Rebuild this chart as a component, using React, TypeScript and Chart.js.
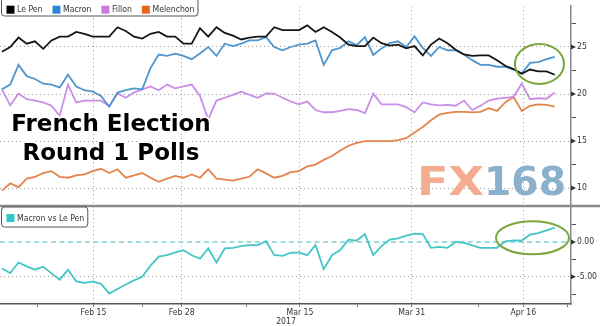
import React, { useEffect, useRef } from 'react';
import { Chart, registerables } from 'chart.js';

Chart.register(...registerables);

// ---------------- data (one value per poll observation) ----------------
const lePen = [
  24.5, 25.0, 26.0, 25.35, 25.6, 24.8, 25.7, 26.1, 26.1, 26.6,
  26.4, 26.1, 26.1, 26.1, 27.1, 26.7, 26.1, 25.9, 26.4, 26.6,
  26.1, 26.1, 25.35, 25.35, 27.0, 26.1, 27.1, 26.5, 26.2, 25.8,
  26.0, 26.1, 26.1, 27.1, 26.8, 26.8, 26.8, 27.3, 26.6, 27.1,
  26.6, 26.0, 25.25, 25.1, 25.1, 26.0, 25.4, 25.15, 25.25, 24.85,
  25.1, 24.1, 25.25, 25.9, 25.4, 24.7, 24.2, 24.05, 24.1, 24.1,
  23.6, 23.0, 22.65, 22.15, 22.6, 22.4, 22.4, 22.05,
];
const macron = [
  20.5, 21.0, 23.1, 21.9, 21.6, 21.1, 21.0, 20.7, 22.05, 20.8,
  20.4, 20.25, 19.8, 18.65, 20.15, 20.4, 20.6, 20.5, 22.75, 24.2,
  24.05, 24.3, 24.05, 23.7, 24.3, 25.0, 24.05, 25.35, 25.1, 25.35,
  25.7, 25.7, 26.05, 25.0, 24.65, 25.0, 25.25, 25.35, 25.7, 23.1,
  24.65, 24.9, 25.6, 25.2, 26.05, 24.15, 24.85, 25.4, 25.6, 25.0,
  26.15, 24.9, 24.05, 25.0, 24.65, 24.65, 24.2, 23.6, 23.1, 23.1,
  22.9, 22.9, 22.6, 22.2, 23.3, 23.4, 23.7, 23.95,
];
const fillon = [
  20.5, 18.8, 20.05, 19.45, 19.3, 19.1, 18.75, 17.7, 21.0, 19.1,
  19.3, 19.3, 19.3, 18.7, 20.05, 19.6, 20.15, 20.5, 20.8, 20.4,
  21.0, 20.6, 20.8, 21.0, 19.8, 17.3, 19.3, 19.6, 19.9, 20.25,
  19.9, 19.6, 20.07, 20.05, 19.6, 19.2, 18.9, 19.2, 18.3, 18.06,
  18.06, 18.2, 18.4, 18.3, 17.96, 20.04, 18.9, 18.9, 18.9, 18.6,
  18.06, 19.1, 18.9, 18.8, 18.85, 18.75, 19.3, 18.3, 18.75, 19.3,
  19.5, 19.6, 19.7, 21.1, 19.45, 19.55, 19.5, 20.15,
];
const melenchon = [
  9.73, 10.5, 10.1, 11.0, 11.2, 11.6, 11.8, 11.2, 11.1, 11.35,
  11.45, 11.8, 12.05, 11.6, 12.0, 11.1, 11.35, 11.6, 11.1, 10.67,
  11.0, 11.3, 11.1, 11.45, 11.1, 12.0, 11.0, 10.9, 10.8, 11.0,
  11.2, 12.0, 11.56, 11.1, 11.3, 11.7, 11.8, 12.3, 12.5, 13.0,
  13.4, 14.0, 14.5, 14.8, 15.0, 15.0, 15.0, 15.0, 15.1, 15.3,
  15.9, 16.5, 17.2, 17.8, 18.0, 18.1, 18.1, 18.05, 18.1, 18.5,
  18.2, 19.1, 19.7, 18.2, 18.75, 18.9, 18.85, 18.65,
];
const macronVsLePen = [
  -3.8, -4.45, -2.95, -3.5, -3.97, -3.55, -4.5, -5.4, -3.97, -5.65,
  -5.85, -5.65, -6.0, -7.4, -6.75, -6.1, -5.5, -5.0, -3.4, -2.1,
  -1.9, -1.5, -1.2, -1.9, -2.4, -0.93, -2.95, -0.93, -0.84, -0.6,
  -0.46, -0.46, 0.1, -1.87, -2.0, -1.55, -1.5, -1.9, -0.46, -3.9,
  -1.9, -1.17, 0.33, 0.2, 1.12, -1.87, -0.6, 0.33, 0.5, 0.9,
  1.18, 1.12, -0.84, -0.7, -0.84, 0.0, -0.14, -0.5, -0.84, -0.84,
  -0.84, 0.1, 0.24, 0.2, 1.04, 1.26, 1.65, 2.06,
];

const candidateNames = ['Le Pen', 'Macron', 'Fillon', 'Melenchon'];
const spreadName = 'Macron vs Le Pen';
const dateLabels = ['Feb 15', 'Feb 28', 'Mar 15', 'Mar 31', 'Apr 16'];
// observation index at which each labelled date falls
const dateAtObservation = [11.09, 21.78, 36.12, 49.66, 63.19];
const minorAtObservation = [4.28, 17.0, 29.58, 43.12, 57.7, 68.5];
const yearLabel = '2017';
const pollTicks = [10, 12.5, 15, 17.5, 20, 22.5, 25, 27.5];
const spreadTicks = [-7.5, -5, -2.5, 0, 2.5];
const titleLines = ['French Election', 'Round 1 Polls'];
const watermark = ['FX', '168'];

// ---------------- styles ----------------
const FONT = '"DejaVu Sans Condensed", "DejaVu Sans", sans-serif';
const lineColors = ['#151515', '#4f96cf', '#c98ee6', '#e3844c'];
const keyColors = ['#000000', '#2d87d6', '#c67de6', '#ea6420'];
const spreadColor = '#45c6c6';
const spreadKeyColor = '#2ec6c8';
const gridColor = '#9c9c9c';
const tickFont = { family: FONT, size: 8.6 };

const isMajor = (v: number) => Math.abs(v % 5) < 1e-9;

function boxPath(ctx: CanvasRenderingContext2D, x: number, y: number, w: number, h: number, r: number) {
  ctx.beginPath();
  ctx.moveTo(x + r, y);
  ctx.lineTo(x + w - r, y);
  ctx.quadraticCurveTo(x + w, y, x + w, y + r);
  ctx.lineTo(x + w, y + h - r);
  ctx.quadraticCurveTo(x + w, y + h, x + w - r, y + h);
  ctx.lineTo(x + r, y + h);
  ctx.quadraticCurveTo(x, y + h, x, y + h - r);
  ctx.lineTo(x, y + r);
  ctx.quadraticCurveTo(x, y, x + r, y);
  ctx.closePath();
}

function drawKey(ctx: CanvasRenderingContext2D, x: number, y: number, h: number, cy: number, items: { label: string; color: string }[]) {
  ctx.save();
  ctx.font = `8.6px ${FONT}`;
  const pad = 5, sq = 8, gap = 2.6, between = 10, rpad = 3.5;
  let w = pad;
  items.forEach((it, i) => {
    w += sq + gap + ctx.measureText(it.label).width + (i < items.length - 1 ? between : rpad);
  });
  boxPath(ctx, x, y, w, h, 3);
  ctx.fillStyle = '#ffffff';
  ctx.fill();
  ctx.strokeStyle = '#555555';
  ctx.lineWidth = 1;
  ctx.stroke();
  let cx = x + pad;
  ctx.textBaseline = 'middle';
  ctx.textAlign = 'left';
  items.forEach((it) => {
    ctx.fillStyle = it.color;
    ctx.fillRect(cx, cy - 4, sq, sq);
    cx += sq + gap;
    ctx.fillStyle = '#333333';
    ctx.fillText(it.label, cx, cy + 0.5);
    cx += ctx.measureText(it.label).width + between;
  });
  ctx.restore();
}

const decorations = {
  id: 'decorations',
  beforeDatasetsDraw(chart: any) {
    const { ctx, chartArea: a, scales } = chart;
    // watermark
    ctx.save();
    ctx.font = 'bold 39px "DejaVu Sans", sans-serif';
    ctx.textBaseline = 'alphabetic';
    const fit = (txt: string, left: number, right: number, base: number, color: string) => {
      const w = ctx.measureText(txt).width;
      ctx.save();
      ctx.translate(left, base);
      ctx.scale((right - left) / w, 1);
      ctx.fillStyle = color;
      ctx.fillText(txt, 0, 0);
      ctx.restore();
    };
    fit(watermark[0], 417, 484, 195, '#f3ac90');
    fit(watermark[1], 484, 566, 195, '#8bb0cc');
    ctx.restore();
    // zero line of the spread panel
    const y0 = scales.yBot.getPixelForValue(0);
    ctx.save();
    ctx.strokeStyle = '#80d2d2';
    ctx.lineWidth = 1.5;
    ctx.setLineDash([5, 3.5]);
    ctx.beginPath();
    ctx.moveTo(a.left, y0);
    ctx.lineTo(a.right, y0);
    ctx.stroke();
    ctx.restore();
  },
  afterDatasetsDraw(chart: any) {
    const { ctx, scales } = chart;
    const { x, yTop, yBot } = scales;
    // separator between panels
    ctx.save();
    ctx.strokeStyle = '#8a8a8a';
    ctx.lineWidth = 2.5;
    ctx.beginPath();
    ctx.moveTo(0, yTop.bottom);
    ctx.lineTo(chart.width, yTop.bottom);
    ctx.stroke();
    ctx.restore();
    // triangle markers on major y ticks
    ctx.save();
    ctx.fillStyle = '#333333';
    [yTop, yBot].forEach((s: any) => {
      s.ticks.forEach((t: any) => {
        if (!isMajor(t.value)) return;
        const py = s.getPixelForValue(t.value);
        ctx.beginPath();
        ctx.moveTo(s.left, py - 2.5);
        ctx.lineTo(s.left + 5, py);
        ctx.lineTo(s.left, py + 2.5);
        ctx.closePath();
        ctx.fill();
      });
    });
    ctx.restore();
    // highlight ellipses
    ctx.save();
    ctx.strokeStyle = '#79a53a';
    ctx.lineWidth = 2;
    ctx.beginPath();
    ctx.ellipse(x.getPixelForValue(65.15), yTop.getPixelForValue(23.2), 24.5, 20, 0, 0, Math.PI * 2);
    ctx.stroke();
    ctx.beginPath();
    ctx.ellipse(x.getPixelForValue(64.3), yBot.getPixelForValue(0.59), 36.5, 16.5, 0, 0, Math.PI * 2);
    ctx.stroke();
    ctx.restore();
    // title
    ctx.save();
    ctx.font = 'bold 23px "DejaVu Sans", sans-serif';
    ctx.textAlign = 'center';
    ctx.textBaseline = 'alphabetic';
    ctx.lineJoin = 'round';
    ctx.strokeStyle = '#ffffff';
    ctx.lineWidth = 4;
    ctx.fillStyle = '#000000';
    [131, 160].forEach((base, i) => {
      ctx.strokeText(titleLines[i], 111, base);
      ctx.fillText(titleLines[i], 111, base);
    });
    ctx.restore();
    // legends
    const ds = chart.data.datasets;
    drawKey(ctx, 1.5, -2, 18, 9.7, ds.slice(0, 4).map((d: any) => ({ label: d.label, color: d.backgroundColor })));
    drawKey(ctx, 1.5, yTop.bottom + 1, 20, yTop.bottom + 12, [{ label: ds[4].label, color: ds[4].backgroundColor }]);
    // year label
    ctx.save();
    ctx.font = `8.6px ${FONT}`;
    ctx.fillStyle = '#333333';
    ctx.textAlign = 'center';
    ctx.textBaseline = 'middle';
    ctx.fillText(yearLabel, x.getPixelForValue(dateAtObservation[2]) - 14, 322);
    ctx.restore();
  },
};

export default function App() {
  const ref = useRef<HTMLCanvasElement>(null);
  useEffect(() => {
    const canvas = ref.current as HTMLCanvasElement;
    const obs = lePen.map((_, i) => i);
    const series = [lePen, macron, fillon, melenchon];
    const datasets: any[] = series.map((d, k) => ({
      label: candidateNames[k],
      data: d,
      borderColor: lineColors[k],
      backgroundColor: keyColors[k],
      yAxisID: 'yTop',
      borderWidth: 1.8,
      pointRadius: 0,
      tension: 0,
      fill: false,
    }));
    datasets.push({
      label: spreadName,
      data: macronVsLePen,
      borderColor: spreadColor,
      backgroundColor: spreadKeyColor,
      yAxisID: 'yBot',
      borderWidth: 1.8,
      pointRadius: 0,
      tension: 0,
      fill: false,
    });
    const chart = new Chart(canvas, {
      type: 'line',
      data: { labels: obs, datasets },
      options: {
        responsive: false,
        maintainAspectRatio: false,
        animation: false,
        layout: { padding: 0 },
        plugins: { legend: { display: false }, tooltip: { enabled: false }, title: { display: false } },
        scales: {
          x: {
            type: 'linear',
            min: -0.24,
            max: 68.97,
            afterBuildTicks: (s: any) => {
              s.ticks = [...dateAtObservation, ...minorAtObservation].sort((a, b) => a - b).map((v) => ({ value: v }));
            },
            afterFit: (s: any) => { s.height = 22; },
            ticks: {
              autoSkip: false, maxRotation: 0, minRotation: 0, padding: 1, color: '#333333', font: tickFont,
              callback: (v: any) => {
                const i = dateAtObservation.indexOf(v);
                return i >= 0 ? dateLabels[i] : '';
              },
            },
            grid: {
              color: (c: any) => (c.tick && dateAtObservation.includes(c.tick.value) ? gridColor : 'rgba(0,0,0,0)'),
              lineWidth: 1,
              tickLength: 3,
              tickColor: '#777777',
            },
            border: { display: true, color: '#555555', width: 1.5, dash: [1, 3] },
          },
          yTop: {
            type: 'linear',
            position: 'right',
            stack: 'panels',
            stackWeight: 204,
            min: 8.09,
            max: 29.34,
            afterBuildTicks: (s: any) => { s.ticks = pollTicks.map((v) => ({ value: v })); },
            afterFit: (s: any) => { s.width = 29; },
            ticks: {
              autoSkip: false, padding: 1, color: '#333333', font: tickFont,
              callback: (v: any) => (isMajor(v) ? String(v) : ''),
            },
            grid: {
              color: (c: any) => (c.tick && isMajor(c.tick.value) ? gridColor : 'rgba(0,0,0,0)'),
              tickColor: (c: any) => (c.tick && isMajor(c.tick.value) ? 'rgba(0,0,0,0)' : '#555555'),
              tickLength: 5,
              lineWidth: 1,
            },
            border: { display: true, color: '#888888', width: 1.5, dash: [1, 3] },
          },
          yBot: {
            type: 'linear',
            position: 'right',
            stack: 'panels',
            stackWeight: 100,
            min: -8.89,
            max: 5.15,
            afterBuildTicks: (s: any) => { s.ticks = spreadTicks.map((v) => ({ value: v })); },
            afterFit: (s: any) => { s.width = 29; },
            ticks: {
              autoSkip: false, padding: 1, color: '#333333', font: tickFont,
              callback: (v: any) => (isMajor(v) ? Number(v).toFixed(2) : ''),
            },
            grid: {
              color: (c: any) => (c.tick && isMajor(c.tick.value) && c.tick.value !== 0 ? gridColor : 'rgba(0,0,0,0)'),
              tickColor: (c: any) => (c.tick && isMajor(c.tick.value) ? 'rgba(0,0,0,0)' : '#555555'),
              tickLength: 5,
              lineWidth: 1,
            },
            border: { display: true, color: '#888888', width: 1.5, dash: [1, 3] },
          },
        },
      } as any,
      plugins: [decorations],
    });
    return () => chart.destroy();
  }, []);
  return (
    <div style={{ position: 'absolute', left: 0, top: 0, width: 600, height: 326, background: '#ffffff' }}>
      <canvas ref={ref} width={600} height={326} style={{ display: 'block', width: 600, height: 326 }} />
    </div>
  );
}
